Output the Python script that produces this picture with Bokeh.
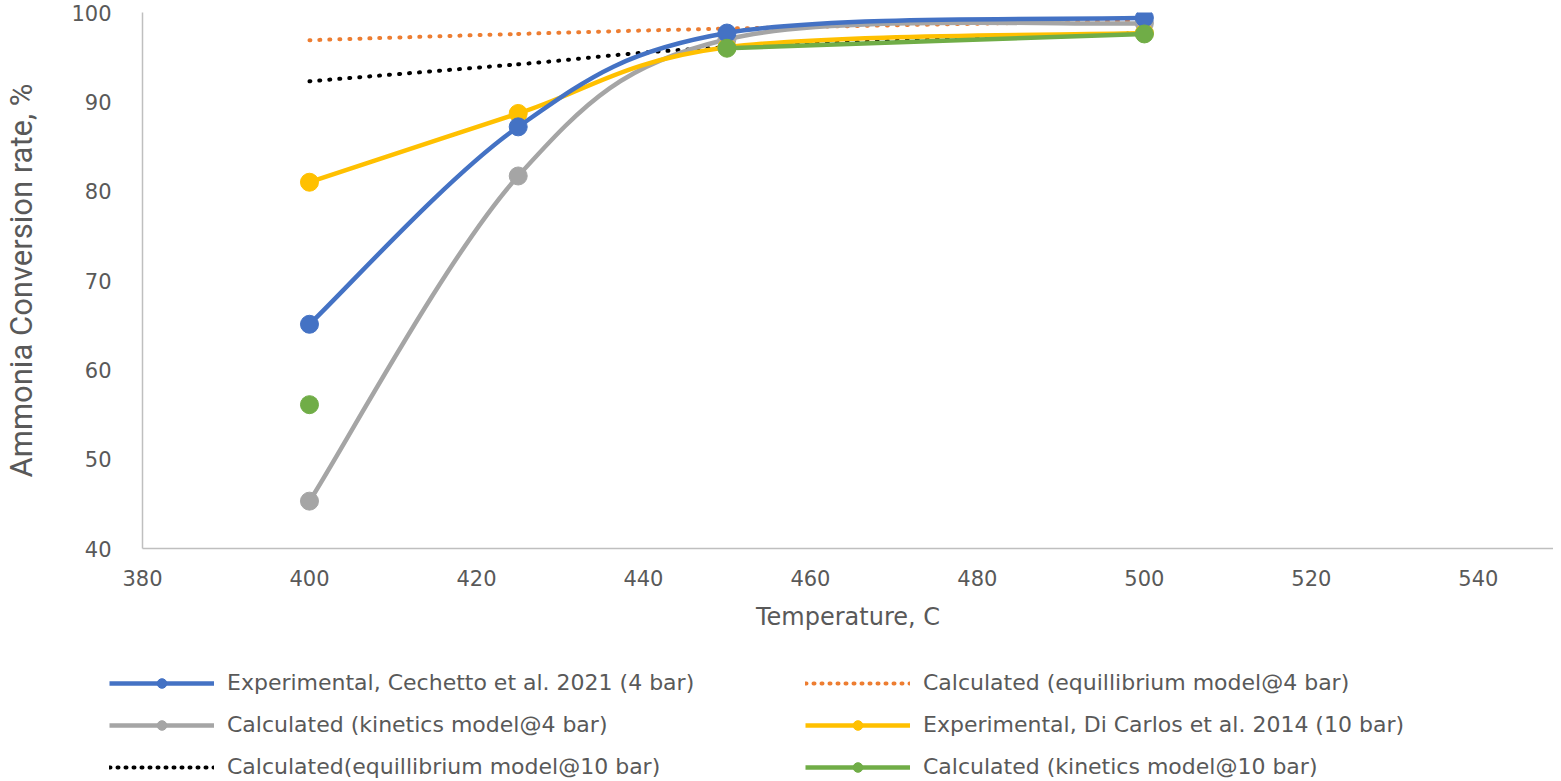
from bokeh.plotting import figure
from bokeh.layouts import column
from bokeh.models import Legend, LegendItem, Range1d, FixedTicker, ColumnDataSource
from bokeh.embed import file_html
from bokeh.resources import INLINE

# ---- data ----
temperature = [400, 425, 450, 500]
exp_cechetto_4bar = [65.1, 87.2, 97.7, 99.4]
calc_equil_4bar = [96.9, 97.6, 98.2, 99.1]
calc_kin_4bar = [45.3, 81.7, 97.0, 98.8]
exp_dicarlos_10bar = [81.0, 88.7, 96.1, 97.7]
calc_equil_10bar = [92.3, 94.2, 96.1, 97.7]
calc_kin_10bar = [56.1, None, 96.0, 97.6]

labels = [
    "Experimental, Cechetto et al. 2021 (4 bar)",
    "Calculated (equillibrium model@4 bar)",
    "Calculated (kinetics model@4 bar)",
    "Experimental, Di Carlos et al. 2014 (10 bar)",
    "Calculated(equillibrium model@10 bar)",
    "Calculated (kinetics model@10 bar)",
]
x_ticks = [380, 400, 420, 440, 460, 480, 500, 520, 540]
y_ticks = [40, 50, 60, 70, 80, 90, 100]
x_label = "Temperature, C"
y_label = "Ammonia Conversion rate, %"

TEXT = "#595959"
AXIS = "#BFBFBF"


def smooth_segments(xs, ys):
    """Cubic Bezier control points (Catmull-Rom style, like a spreadsheet's smoothed line)."""
    runs, cur = [], []
    for x, y in zip(xs, ys):
        if y is None:
            if cur:
                runs.append(cur)
            cur = []
        else:
            cur.append((x, y))
    if cur:
        runs.append(cur)
    d = dict(x0=[], y0=[], x1=[], y1=[], cx0=[], cy0=[], cx1=[], cy1=[])
    for run in runs:
        n = len(run)
        for i in range(n - 1):
            p0 = run[i - 1] if i > 0 else run[i]
            p1 = run[i]
            p2 = run[i + 1]
            p3 = run[i + 2] if i + 2 < n else run[i + 1]
            d["x0"].append(p1[0]); d["y0"].append(p1[1])
            d["x1"].append(p2[0]); d["y1"].append(p2[1])
            d["cx0"].append(p1[0] + (p2[0] - p0[0]) / 6.0)
            d["cy0"].append(p1[1] + (p2[1] - p0[1]) / 6.0)
            d["cx1"].append(p2[0] - (p3[0] - p1[0]) / 6.0)
            d["cy1"].append(p2[1] - (p3[1] - p1[1]) / 6.0)
    return ColumnDataSource(d)


def points(xs, ys):
    px = [x for x, y in zip(xs, ys) if y is not None]
    py = [y for y in ys if y is not None]
    return ColumnDataSource(dict(x=px, y=py))


p = figure(frame_width=1411, frame_height=536, output_backend="svg",
           toolbar_location=None,
           x_range=Range1d(380, 549), y_range=Range1d(40, 100),
           min_border_left=134, min_border_right=0, min_border_top=12,
           min_border_bottom=97)
p.frame_align = False
p.outline_line_color = None
p.grid.visible = False
p.background_fill_color = "white"

for ax in (p.xaxis, p.yaxis):
    ax.axis_line_color = AXIS
    ax.axis_line_width = 1.5
    ax.major_tick_line_color = None
    ax.minor_tick_line_color = None
    ax.major_tick_out = 0
    ax.major_tick_in = 0
    ax.minor_tick_out = 0
    ax.major_label_text_font = "DejaVu Sans"
    ax.major_label_text_font_size = "21px"
    ax.major_label_text_color = TEXT
    ax.axis_label_text_color = TEXT
    ax.axis_label_text_font_style = "normal"

p.xaxis.ticker = FixedTicker(ticks=x_ticks)
p.yaxis.ticker = FixedTicker(ticks=y_ticks)
p.xaxis.major_label_standoff = 21
p.yaxis.major_label_standoff = 31
p.xaxis.axis_label = x_label
p.xaxis.axis_label_text_font = "DejaVu Sans"
p.xaxis.axis_label_text_font_size = "24px"
p.xaxis.axis_label_standoff = 14
p.yaxis.axis_label = y_label
p.yaxis.axis_label_text_font = "Roboto"
p.yaxis.axis_label_text_font_size = "31px"
p.yaxis.axis_label_standoff = 28

series = [
    (exp_cechetto_4bar, "#4472C4", "solid"),
    (calc_equil_4bar, "#ED7D31", "dot"),
    (calc_kin_4bar, "#A5A5A5", "solid"),
    (exp_dicarlos_10bar, "#FFC000", "solid"),
    (calc_equil_10bar, "#000000", "dot"),
    (calc_kin_10bar, "#70AD47", "solid"),
]

for idx in [1, 4, 2, 3, 0, 5]:
    ys, color, style = series[idx]
    src = smooth_segments(temperature, ys)
    if style == "dot":
        p.bezier(x0="x0", y0="y0", x1="x1", y1="y1", cx0="cx0", cy0="cy0",
                 cx1="cx1", cy1="cy1", source=src, line_color=color,
                 line_width=4, line_dash="1 9", line_cap="round")
    else:
        p.bezier(x0="x0", y0="y0", x1="x1", y1="y1", cx0="cx0", cy0="cy0",
                 cx1="cx1", cy1="cy1", source=src, line_color=color,
                 line_width=4.5, line_cap="round")
        p.scatter(x="x", y="y", source=points(temperature, ys), size=18,
                  fill_color=color, line_color=color, marker="circle")

# ---- legend strip below the chart ----
lg = figure(width=1545, height=133, output_backend="svg", toolbar_location=None,
            x_range=Range1d(0, 1), y_range=Range1d(0, 1),
            x_axis_location=None, y_axis_location=None,
            min_border=0, min_border_left=0, min_border_right=0,
            min_border_top=0, min_border_bottom=0)
lg.frame_align = False
lg.grid.visible = False
lg.outline_line_color = None

items = []
for idx in range(6):
    ys, color, style = series[idx]
    if style == "dot":
        r = lg.line(x=[-5, -4], y=[-5, -4], line_color=color, line_width=4,
                    line_dash="1 7", line_cap="round")
        rs = [r]
    else:
        r = lg.line(x=[-5, -4], y=[-5, -4], line_color=color, line_width=4.5)
        s = lg.scatter(x=[-5], y=[-5], size=12, fill_color=color,
                       line_color=color, marker="circle")
        rs = [r, s]
    items.append(LegendItem(label=labels[idx], renderers=rs))

legend = Legend(items=items, ncols=2, orientation="horizontal",
                location=(109, -1), glyph_width=105, glyph_height=24,
                label_height=24, label_width=561, spacing=17, label_standoff=13,
                padding=0, margin=0, border_line_color=None,
                background_fill_alpha=0, label_text_font="DejaVu Sans",
                label_text_font_size="22px", label_text_color=TEXT)
lg.add_layout(legend, "center")

open("out.html", "w").write(file_html(column(p, lg, spacing=0), INLINE))
